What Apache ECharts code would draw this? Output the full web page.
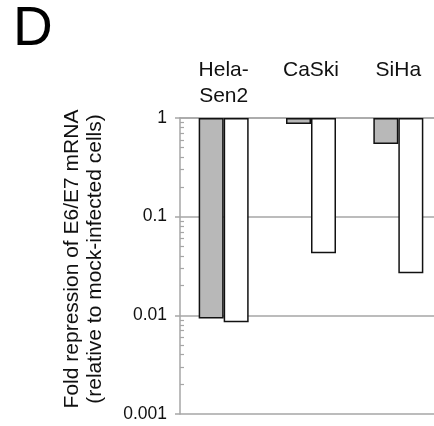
<!DOCTYPE html>
<html>
<head>
<meta charset="utf-8">
<script src="https://cdn.jsdelivr.net/npm/echarts@6/dist/echarts.min.js"></script>
<style>
  html, body { margin: 0; padding: 0; background: #fff; }
  #chart { width: 434px; height: 426px; }
</style>
</head>
<body>
<div id="chart"></div>
<script>
// Cell lines along the top axis
const cellLines = ['Hela-\nSen2', 'CaSki', 'SiHa'];
// Fold repression of E6/E7 mRNA, relative to mock-infected cells
const greyValues = [0.0093, 0.87, 0.545];
const whiteValues = [0.0085, 0.0426, 0.0267];
// Log-axis range, labelled decades and the in-between (2..9) minor tick positions
const yMin = 0.001;
const yMax = 1;
const decadeLabels = [0.001, 0.01, 0.1, 1];
const minorTickValues = [];
[0.001, 0.01, 0.1].forEach(function (dec) {
  for (let k = 2; k <= 9; k++) minorTickValues.push(+(dec * k).toPrecision(3));
});
const yTitle = 'Fold repression of E6/E7 mRNA\n(relative to mock-infected cells)';

const FONT = '"Liberation Sans", Arial, sans-serif';
const AXIS_GREY = '#a6a6a6';

const chart = echarts.init(document.getElementById('chart'), null, { renderer: 'canvas' });

chart.setOption({
  animation: false,
  backgroundColor: '#fff',
  title: {
    text: 'D',
    left: 8,
    top: -3,
    textStyle: { fontFamily: FONT, fontSize: 55, fontWeight: 'normal', color: '#000' }
  },
  // vertical axis title, reading bottom to top
  graphic: [{
    type: 'text',
    x: 84,
    y: 259,
    rotation: Math.PI / 2,
    style: {
      text: yTitle,
      fontFamily: FONT,
      fontSize: 21,
      lineHeight: 23,
      fill: '#111',
      align: 'center',
      verticalAlign: 'middle'
    }
  }],
  // the plot runs a little past the right edge of the canvas
  grid: { left: 180, right: -8, top: 118, bottom: 12, containLabel: false, outerBoundsMode: 'none' },
  xAxis: {
    type: 'category',
    position: 'top',
    data: cellLines,
    axisLine: { show: true, lineStyle: { color: AXIS_GREY, width: 1.5 } },
    axisTick: { show: false },
    axisLabel: {
      fontFamily: FONT,
      fontSize: 21,
      color: '#111',
      lineHeight: 26,
      verticalAlign: 'top',
      margin: 61,
      interval: 0
    }
  },
  yAxis: [
    {
      type: 'log',
      logBase: 10,
      min: yMin,
      max: yMax,
      axisLine: { show: true, lineStyle: { color: AXIS_GREY, width: 1.5 } },
      axisTick: { show: true, inside: false, length: 5, lineStyle: { color: AXIS_GREY, width: 1.5 } },
      axisLabel: {
        fontFamily: FONT,
        fontSize: 17.5,
        color: '#111',
        margin: 13,
        customValues: decadeLabels,
        formatter: function (v) { return String(+v.toPrecision(3)); }
      },
      splitLine: { show: true, lineStyle: { color: AXIS_GREY, width: 1.5 } }
    },
    {
      type: 'log',
      logBase: 10,
      min: yMin,
      max: yMax,
      position: 'left',
      axisLine: { show: false },
      axisLabel: { show: false },
      splitLine: { show: false },
      axisTick: {
        show: true,
        inside: true,
        length: 4,
        customValues: minorTickValues,
        lineStyle: { color: AXIS_GREY, width: 1.2 }
      }
    }
  ],
  series: [
    {
      name: 'grey',
      type: 'bar',
      yAxisIndex: 0,
      data: greyValues,
      barWidth: 25,
      barGap: '0%',
      itemStyle: { color: '#b8b8b8', borderColor: '#111', borderWidth: 1.5 }
    },
    {
      name: 'white',
      type: 'bar',
      yAxisIndex: 0,
      data: whiteValues,
      barWidth: 25,
      barGap: '0%',
      itemStyle: { color: '#ffffff', borderColor: '#111', borderWidth: 1.5 }
    }
  ]
});
</script>
</body>
</html>
